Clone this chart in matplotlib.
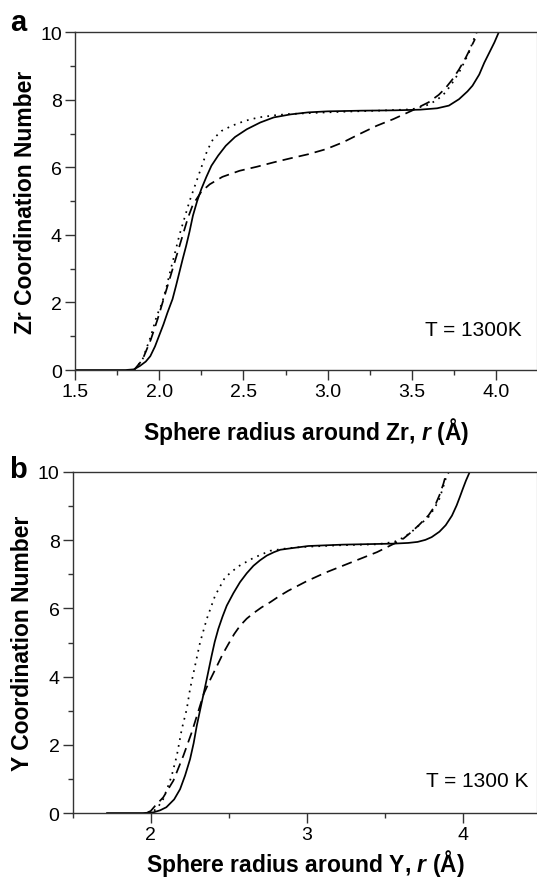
import matplotlib
matplotlib.use("Agg")
import matplotlib.pyplot as plt
from matplotlib.ticker import MultipleLocator, FormatStrFormatter

plt.rcParams["font.family"] = ["Liberation Sans", "DejaVu Sans"]
plt.rcParams["mathtext.fontset"] = "custom"
plt.rcParams["mathtext.rm"] = "Liberation Sans:bold"
plt.rcParams["mathtext.it"] = "Liberation Sans:italic:bold"
plt.rcParams["mathtext.bf"] = "Liberation Sans:bold"

# ── panel a: Zr coordination number ──────────────────────────
zr_solid_x = [1.50, 1.80, 1.85, 1.885, 1.92, 1.947, 1.975, 1.998, 2.025, 2.049, 2.079, 2.10,
              2.12, 2.14, 2.16, 2.18, 2.20, 2.225, 2.25, 2.28, 2.31, 2.35, 2.395, 2.45, 2.52,
              2.60, 2.68, 2.78, 2.885, 3.0, 3.2, 3.4, 3.55, 3.65, 3.72, 3.78, 3.83, 3.86,
              3.90, 3.93, 3.96, 3.99, 4.016]
zr_solid_y = [0.0, 0.0, 0.02, 0.12, 0.25, 0.41, 0.7, 1.0, 1.35, 1.7, 2.1, 2.5,
              2.9, 3.3, 3.68, 4.1, 4.57, 5.0, 5.36, 5.72, 6.05, 6.35, 6.64, 6.9, 7.13,
              7.33, 7.48, 7.57, 7.63, 7.66, 7.68, 7.69, 7.71, 7.75, 7.83, 8.02, 8.25, 8.42,
              8.75, 9.1, 9.4, 9.7, 10.0]

zr_dot_x = [1.85, 1.90, 1.95, 1.985, 2.018, 2.045, 2.069, 2.095, 2.12, 2.15, 2.18, 2.215,
            2.25, 2.285, 2.32, 2.37, 2.43, 2.51, 2.59, 2.68, 2.77, 2.9, 3.1, 3.3, 3.5,
            3.56, 3.60, 3.65, 3.70, 3.74, 3.78, 3.81, 3.84, 3.86, 3.885]
zr_dot_y = [0.0, 0.3, 1.0, 1.6, 2.0, 2.5, 3.0, 3.5, 4.0, 4.5, 5.0, 5.5,
            6.0, 6.5, 6.84, 7.08, 7.23, 7.38, 7.48, 7.54, 7.58, 7.61, 7.65, 7.68, 7.72,
            7.8, 7.86, 8.0, 8.22, 8.5, 8.81, 9.1, 9.41, 9.7, 10.0]

zr_dash_x = [1.85, 1.90, 1.95, 1.99, 2.02, 2.05, 2.08, 2.11, 2.14, 2.17, 2.20, 2.25,
             2.30, 2.375, 2.477, 2.58, 2.68, 2.78, 2.885, 2.99, 3.09, 3.19, 3.29, 3.39,
             3.50, 3.60, 3.66, 3.70, 3.74, 3.78, 3.82, 3.85, 3.875]
zr_dash_y = [0.0, 0.3, 0.9, 1.5, 2.0, 2.5, 3.0, 3.5, 4.0, 4.5, 4.9, 5.28,
             5.5, 5.72, 5.9, 6.02, 6.15, 6.27, 6.39, 6.54, 6.74, 6.99, 7.23, 7.43,
             7.68, 7.93, 8.15, 8.35, 8.6, 8.9, 9.25, 9.55, 9.8]

# ── panel b: Y coordination number ───────────────────────────
y_solid_x = [1.72, 1.95, 2.017, 2.06, 2.10, 2.15, 2.188, 2.22, 2.252, 2.275, 2.295, 2.327,
             2.359, 2.39, 2.41, 2.433, 2.46, 2.487, 2.53, 2.572, 2.615, 2.658, 2.70, 2.744,
             2.79, 2.83, 2.893, 3.01, 3.23, 3.56, 3.65, 3.71, 3.76, 3.80,
             3.85, 3.89, 3.93, 3.96, 3.98, 4.0, 4.02, 4.044]
y_solid_y = [0.0, 0.0, 0.02, 0.08, 0.17, 0.4, 0.70, 1.1, 1.58, 2.05, 2.56, 3.25,
             3.93, 4.61, 5.02, 5.40, 5.76, 6.08, 6.45, 6.77, 7.03, 7.25, 7.41, 7.55,
             7.65, 7.72, 7.76, 7.83, 7.87, 7.9, 7.92, 7.95, 8.01, 8.09,
             8.25, 8.44, 8.72, 9.02, 9.26, 9.51, 9.75, 10.0]

y_dot_x = [1.98, 2.02, 2.05, 2.08, 2.108, 2.134, 2.167, 2.199, 2.231, 2.252, 2.284, 2.316,
           2.359, 2.412, 2.476, 2.56, 2.658, 2.765, 2.87, 2.966, 3.2, 3.45, 3.56, 3.62,
           3.67, 3.72, 3.78, 3.82, 3.85, 3.87, 3.89, 3.91]
y_dot_y = [0.0, 0.06, 0.2, 0.41, 0.75, 1.09, 1.68, 2.46, 3.05, 3.64, 4.32, 5.0,
           5.69, 6.37, 6.91, 7.23, 7.48, 7.69, 7.76, 7.8, 7.85, 7.88, 7.95, 8.08,
           8.24, 8.44, 8.68, 8.95, 9.22, 9.5, 9.8, 10.0]

y_dash_x = [1.98, 2.0, 2.028, 2.08, 2.145, 2.209, 2.263, 2.316, 2.34, 2.38, 2.423, 2.46,
            2.497, 2.535, 2.572, 2.615, 2.658, 2.71, 2.765, 2.82, 2.882, 3.0, 3.12, 3.23,
            3.34, 3.45, 3.56, 3.62, 3.67, 3.72, 3.78, 3.82, 3.85, 3.875, 3.89]
y_dash_y = [0.02, 0.06, 0.21, 0.46, 0.95, 1.68, 2.37, 3.15, 3.5, 3.9, 4.3, 4.65,
            4.95, 5.25, 5.49, 5.7, 5.86, 6.03, 6.18, 6.35, 6.52, 6.8, 7.05, 7.25,
            7.45, 7.65, 7.9, 8.05, 8.24, 8.45, 8.73, 9.0, 9.32, 9.65, 9.9]

DASH = (0, (6, 3.5))
DOT = (0, (1, 3.0))
LW = 1.25


def style_axes(ax, xmax, xmajor, xminor, xfmt, ylabel, xlabel, xpad):
    ax.set_xlim(1.5, xmax)
    ax.set_ylim(0, 10)
    ax.xaxis.set_major_locator(MultipleLocator(xmajor))
    ax.xaxis.set_minor_locator(MultipleLocator(xminor))
    ax.xaxis.set_major_formatter(FormatStrFormatter(xfmt))
    ax.yaxis.set_major_locator(MultipleLocator(2))
    ax.yaxis.set_minor_locator(MultipleLocator(1))
    ax.tick_params(which="both", direction="out", top=False, right=False,
                   colors="#333333", labelcolor="black", labelsize=14, width=1.0, pad=2.5)
    ax.tick_params(which="major", length=7)
    ax.tick_params(which="minor", length=3.5)
    for s in ["left", "bottom", "top"]:
        ax.spines[s].set_color("#333333")
        ax.spines[s].set_linewidth(1.0)
    ax.spines["right"].set_color("#d0d0d0")
    ax.spines["right"].set_linewidth(1.0)
    ax.set_ylabel(ylabel, fontsize=16.5, fontweight="bold", labelpad=2.5)
    ax.set_xlabel(xlabel, fontsize=16.5, fontweight="bold", labelpad=xpad)


fig = plt.figure(figsize=(5.37, 8.79), dpi=100)

ax1 = fig.add_axes([0.1397, 0.5779, 0.8603, 0.3842])
ax1.plot(zr_solid_x, zr_solid_y, color="black", lw=LW, ls="-")
ax1.plot(zr_dash_x, zr_dash_y, color="black", lw=LW, ls=DASH)
ax1.plot(zr_dot_x, zr_dot_y, color="black", lw=LW, ls=DOT)
style_axes(ax1, 4.243, 0.5, 0.25, "%.1f", "Zr Coordination Number",
           "Sphere radius around Zr, $\\mathit{r}$ (Å)", 11)
ax1.text(0.967, 0.12, "T = 1300K", transform=ax1.transAxes, ha="right", va="center",
         fontsize=15)
fig.text(0.034, 0.974, "a", fontsize=21, fontweight="bold", ha="center", va="center")

ax2 = fig.add_axes([0.1354, 0.0739, 0.8646, 0.388])
ax2.plot(y_solid_x, y_solid_y, color="black", lw=LW, ls="-")
ax2.plot(y_dash_x, y_dash_y, color="black", lw=LW, ls=DASH)
ax2.plot(y_dot_x, y_dot_y, color="black", lw=LW, ls=DOT)
style_axes(ax2, 4.475, 1, 0.5, "%d", "Y Coordination Number",
           "Sphere radius around Y, $\\mathit{r}$ (Å)", 3)
ax2.text(0.982, 0.095, "T = 1300 K", transform=ax2.transAxes, ha="right", va="center",
         fontsize=15)
fig.text(0.034, 0.465, "b", fontsize=21, fontweight="bold", ha="center", va="center")

fig.savefig("out.png", dpi=100)
